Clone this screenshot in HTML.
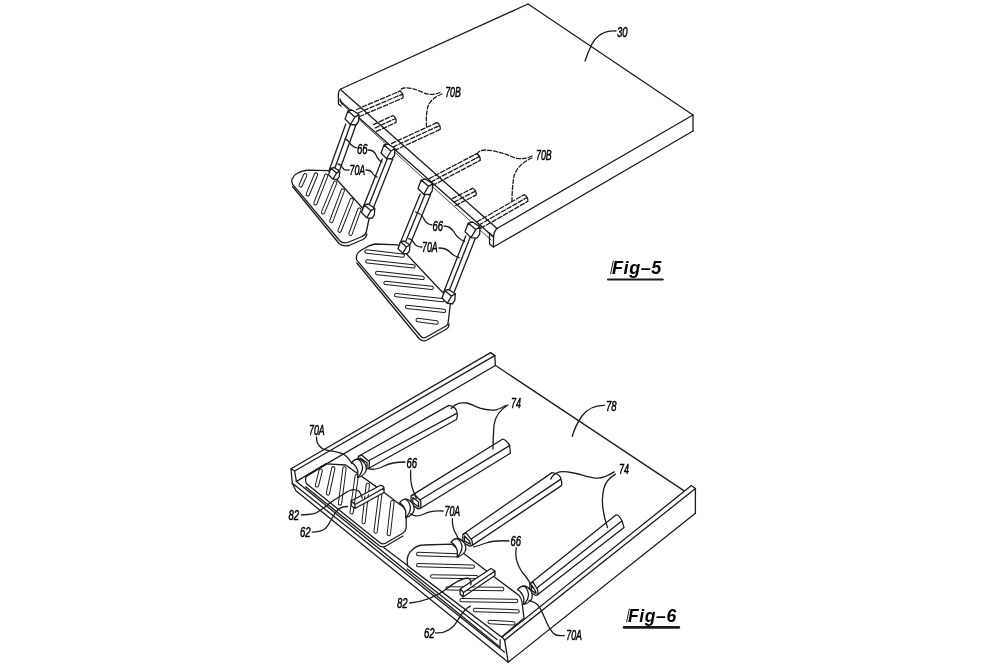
<!DOCTYPE html>
<html><head><meta charset="utf-8"><style>
html,body{margin:0;padding:0;background:#fff;}
svg{display:block;will-change:transform;}
text{font-family:"Liberation Sans",sans-serif;}
</style></head><body>
<svg width="1000" height="667" viewBox="0 0 1000 667">
<g fill="none" stroke="#1c1c1c" stroke-linejoin="round" stroke-linecap="round">
<line x1="340.8" y1="89" x2="528" y2="4" stroke-width="1.3"/>
<line x1="528" y1="4" x2="693" y2="115" stroke-width="1.3"/>
<line x1="693" y1="115" x2="693" y2="131" stroke-width="1.3"/>
<line x1="693" y1="115" x2="497" y2="228.5" stroke-width="1.3"/>
<line x1="693" y1="131" x2="493.5" y2="247" stroke-width="1.3"/>
<line x1="341" y1="90" x2="497" y2="228.5" stroke-width="1.3"/>
<line x1="340" y1="101" x2="493.5" y2="237" stroke-width="1.3"/>
<line x1="341" y1="103" x2="491" y2="240" stroke-width="0.8"/>
<path d="M497,228.5 Q494,231 493.5,237 L493.5,247 M493.5,237 L489.5,233 L489.5,244 L493.5,247" stroke-width="1.3" fill="none" />
<path d="M340.8,89 Q338,91 338.4,96 L338.4,104 L341,106 M340,99 L342,104" stroke-width="1.3" fill="none" />
<line x1="356.51" y1="109.50" x2="398.17" y2="91.78" stroke-width="1.3" stroke-dasharray="4.5,2"/>
<line x1="358.0" y1="113.0" x2="399.65" y2="95.28" stroke-width="1.3" stroke-dasharray="4.5,2"/>
<line x1="359.48" y1="116.49" x2="401.14" y2="98.77" stroke-width="1.3" stroke-dasharray="4.5,2"/>
<path d="M398.17,91.78 L400.01,91.00 Q403.80,93.52 402.98,97.99 L401.14,98.77 M399.65,95.28 L402.60,94.03" stroke-width="1.3" fill="none" />
<line x1="373.40" y1="124.54" x2="391.09" y2="116.38" stroke-width="1.3" stroke-dasharray="4.5,2"/>
<line x1="375.0" y1="128.0" x2="392.68" y2="119.83" stroke-width="1.3" stroke-dasharray="4.5,2"/>
<line x1="376.59" y1="131.45" x2="394.27" y2="123.28" stroke-width="1.3" stroke-dasharray="4.5,2"/>
<path d="M391.09,116.38 L392.90,115.54 Q396.76,117.95 396.09,122.45 L394.27,123.28 M392.68,119.83 L395.58,118.49" stroke-width="1.3" fill="none" />
<line x1="391.41" y1="143.54" x2="435.19" y2="123.38" stroke-width="1.3" stroke-dasharray="4.5,2"/>
<line x1="393.0" y1="147.0" x2="436.78" y2="126.83" stroke-width="1.3" stroke-dasharray="4.5,2"/>
<line x1="394.58" y1="150.45" x2="438.37" y2="130.28" stroke-width="1.3" stroke-dasharray="4.5,2"/>
<path d="M435.19,123.38 L437.01,122.54 Q440.87,124.95 440.18,129.45 L438.37,130.28 M436.78,126.83 L439.68,125.49" stroke-width="1.3" fill="none" />
<line x1="429.22" y1="178.63" x2="474.85" y2="154.57" stroke-width="1.3" stroke-dasharray="4.5,2"/>
<line x1="431.0" y1="182.0" x2="476.63" y2="157.93" stroke-width="1.3" stroke-dasharray="4.5,2"/>
<line x1="432.77" y1="185.36" x2="478.40" y2="161.29" stroke-width="1.3" stroke-dasharray="4.5,2"/>
<path d="M474.85,154.57 L476.62,153.63 Q480.61,155.83 480.17,160.36 L478.40,161.29 M476.63,157.93 L479.46,156.44" stroke-width="1.3" fill="none" />
<line x1="452.28" y1="198.61" x2="470.99" y2="189.11" stroke-width="1.3" stroke-dasharray="4.5,2"/>
<line x1="454.0" y1="202.0" x2="472.71" y2="192.50" stroke-width="1.3" stroke-dasharray="4.5,2"/>
<line x1="455.71" y1="205.38" x2="474.43" y2="195.89" stroke-width="1.3" stroke-dasharray="4.5,2"/>
<path d="M470.99,189.11 L472.78,188.21 Q476.72,190.46 476.21,194.98 L474.43,195.89 M472.71,192.50 L475.57,191.05" stroke-width="1.3" fill="none" />
<line x1="477.10" y1="221.70" x2="522.37" y2="195.70" stroke-width="1.3" stroke-dasharray="4.5,2"/>
<line x1="479.0" y1="225.0" x2="524.26" y2="198.99" stroke-width="1.3" stroke-dasharray="4.5,2"/>
<line x1="480.89" y1="228.29" x2="526.15" y2="202.29" stroke-width="1.3" stroke-dasharray="4.5,2"/>
<path d="M522.37,195.70 L524.10,194.70 Q528.16,196.75 527.89,201.29 L526.15,202.29 M524.26,198.99 L527.04,197.40" stroke-width="1.3" fill="none" />
<line x1="345.75" y1="124" x2="329.25" y2="170" stroke-width="1.3"/>
<line x1="350.68" y1="124" x2="334.18" y2="170" stroke-width="1.3"/>
<line x1="356.25" y1="124" x2="339.75" y2="170" stroke-width="1.3"/>
<line x1="382.25" y1="159" x2="363.25" y2="207" stroke-width="1.3"/>
<line x1="387.18" y1="159" x2="368.18" y2="207" stroke-width="1.3"/>
<line x1="392.75" y1="159" x2="373.75" y2="207" stroke-width="1.3"/>
<line x1="420.25" y1="194" x2="399.75" y2="244" stroke-width="1.3"/>
<line x1="425.18" y1="194" x2="404.68" y2="244" stroke-width="1.3"/>
<line x1="430.75" y1="194" x2="410.25" y2="244" stroke-width="1.3"/>
<line x1="465.75" y1="236" x2="443.75" y2="292" stroke-width="1.3"/>
<line x1="470.68" y1="236" x2="448.68" y2="292" stroke-width="1.3"/>
<line x1="476.25" y1="236" x2="454.25" y2="292" stroke-width="1.3"/>
<path d="M348.00,111.00 L352.00,110.00 L359.00,114.50 L355.00,117.00 Z M348.00,111.00 L345.00,119.00 L350.50,124.50 L355.00,117.00 M359.00,114.50 L358.50,121.50 L356.00,125.00 L350.50,124.50" stroke-width="1.3" fill="#fff" />
<path d="M384.00,145.00 L388.00,144.00 L395.00,148.50 L391.00,151.00 Z M384.00,145.00 L381.00,153.00 L386.50,158.50 L391.00,151.00 M395.00,148.50 L394.50,155.50 L392.00,159.00 L386.50,158.50" stroke-width="1.3" fill="#fff" />
<path d="M421.15,180.05 L425.35,179.00 L432.70,183.72 L428.50,186.35 Z M421.15,180.05 L418.00,188.45 L423.77,194.22 L428.50,186.35 M432.70,183.72 L432.18,191.07 L429.55,194.75 L423.77,194.22" stroke-width="1.3" fill="#fff" />
<path d="M468.24,223.08 L472.56,222.00 L480.12,226.86 L475.80,229.56 Z M468.24,223.08 L465.00,231.72 L470.94,237.66 L475.80,229.56 M480.12,226.86 L479.58,234.42 L476.88,238.20 L470.94,237.66" stroke-width="1.3" fill="#fff" />
<path d="M292.5,184.1 Q291,180 292.5,178.4 Q294,175 297,173.5 Q302,170.5 309,170.2 L328.8,170.7 L369.6,216 L366.4,231.5 Q365.5,235 362,236.5 L349,242 Q343,244.5 339.5,240.5 Z" stroke-width="1.3" fill="#fff" />
<path d="M292.5,186.5 L339,243.5 Q343.5,247 349,245.5 L363,239.5 Q366.5,237.5 366.8,234" stroke-width="1.3" fill="none" />
<line x1="305.2" y1="175.2" x2="300.7" y2="185.4" stroke-width="4.3" stroke-linecap="round"/>
<line x1="305.2" y1="175.2" x2="300.7" y2="185.4" stroke-width="2.3" stroke="#fff" stroke-linecap="round"/>
<line x1="316" y1="174.6" x2="307.8" y2="194.3" stroke-width="4.3" stroke-linecap="round"/>
<line x1="316" y1="174.6" x2="307.8" y2="194.3" stroke-width="2.3" stroke="#fff" stroke-linecap="round"/>
<line x1="326.2" y1="175.8" x2="315.4" y2="203.2" stroke-width="4.3" stroke-linecap="round"/>
<line x1="326.2" y1="175.8" x2="315.4" y2="203.2" stroke-width="2.3" stroke="#fff" stroke-linecap="round"/>
<line x1="335.2" y1="182.8" x2="323.1" y2="212.2" stroke-width="4.3" stroke-linecap="round"/>
<line x1="335.2" y1="182.8" x2="323.1" y2="212.2" stroke-width="2.3" stroke="#fff" stroke-linecap="round"/>
<line x1="342.8" y1="190.5" x2="331.3" y2="221.1" stroke-width="4.3" stroke-linecap="round"/>
<line x1="342.8" y1="190.5" x2="331.3" y2="221.1" stroke-width="2.3" stroke="#fff" stroke-linecap="round"/>
<line x1="351.7" y1="200" x2="339.6" y2="230.7" stroke-width="4.3" stroke-linecap="round"/>
<line x1="351.7" y1="200" x2="339.6" y2="230.7" stroke-width="2.3" stroke="#fff" stroke-linecap="round"/>
<line x1="359.4" y1="209.6" x2="350.5" y2="233.8" stroke-width="4.3" stroke-linecap="round"/>
<line x1="359.4" y1="209.6" x2="350.5" y2="233.8" stroke-width="2.3" stroke="#fff" stroke-linecap="round"/>
<path d="M330.90,168.30 L334.10,167.50 L339.70,171.10 L336.50,173.10 Z M330.90,168.30 L328.50,174.70 L332.90,179.10 L336.50,173.10 M339.70,171.10 L339.30,176.70 L337.30,179.50 L332.90,179.10" stroke-width="1.3" fill="#fff" />
<path d="M364.35,204.95 L368.15,204.00 L374.80,208.28 L371.00,210.65 Z M364.35,204.95 L361.50,212.55 L366.73,217.78 L371.00,210.65 M374.80,208.28 L374.32,214.93 L371.95,218.25 L366.73,217.78" stroke-width="1.3" fill="#fff" />
<path d="M356.6,259.8 Q355,253 363.2,249 Q368,245.5 374.8,244 L397.9,244.9 L450.7,301 L448.1,322.8 Q447.8,325 446,326 L426.5,337 Q423,339 420.5,336 Z" stroke-width="1.3" fill="#fff" />
<path d="M356.8,263 L419.5,339 Q423,342 427,340 L446.5,329 Q449,327.5 449,324" stroke-width="1.3" fill="none" />
<line x1="366.5" y1="251.5" x2="402.8" y2="255.6" stroke-width="4.3" stroke-linecap="round"/>
<line x1="366.5" y1="251.5" x2="402.8" y2="255.6" stroke-width="2.3" stroke="#fff" stroke-linecap="round"/>
<line x1="367.3" y1="261.4" x2="413.5" y2="266.4" stroke-width="4.3" stroke-linecap="round"/>
<line x1="367.3" y1="261.4" x2="413.5" y2="266.4" stroke-width="2.3" stroke="#fff" stroke-linecap="round"/>
<line x1="377.2" y1="273" x2="422.6" y2="277.9" stroke-width="4.3" stroke-linecap="round"/>
<line x1="377.2" y1="273" x2="422.6" y2="277.9" stroke-width="2.3" stroke="#fff" stroke-linecap="round"/>
<line x1="385.5" y1="282.9" x2="431.7" y2="287.8" stroke-width="4.3" stroke-linecap="round"/>
<line x1="385.5" y1="282.9" x2="431.7" y2="287.8" stroke-width="2.3" stroke="#fff" stroke-linecap="round"/>
<line x1="396.2" y1="295.2" x2="442.4" y2="300.2" stroke-width="4.3" stroke-linecap="round"/>
<line x1="396.2" y1="295.2" x2="442.4" y2="300.2" stroke-width="2.3" stroke="#fff" stroke-linecap="round"/>
<line x1="407" y1="306.8" x2="444" y2="310.9" stroke-width="4.3" stroke-linecap="round"/>
<line x1="407" y1="306.8" x2="444" y2="310.9" stroke-width="2.3" stroke="#fff" stroke-linecap="round"/>
<line x1="417.7" y1="320" x2="436.6" y2="322.5" stroke-width="4.3" stroke-linecap="round"/>
<line x1="417.7" y1="320" x2="436.6" y2="322.5" stroke-width="2.3" stroke="#fff" stroke-linecap="round"/>
<path d="M400.55,241.85 L403.95,241.00 L409.90,244.82 L406.50,246.95 Z M400.55,241.85 L398.00,248.65 L402.68,253.32 L406.50,246.95 M409.90,244.82 L409.48,250.78 L407.35,253.75 L402.68,253.32" stroke-width="1.3" fill="#fff" />
<path d="M444.85,290.45 L448.65,289.50 L455.30,293.77 L451.50,296.15 Z M444.85,290.45 L442.00,298.05 L447.23,303.27 L451.50,296.15 M455.30,293.77 L454.82,300.43 L452.45,303.75 L447.23,303.27" stroke-width="1.3" fill="#fff" />
<text transform="translate(617,37) scale(0.68,1)" font-size="14" font-style="italic" font-weight="normal" text-anchor="start" stroke="#000" stroke-width="0.5" fill="#000" letter-spacing="0">30</text>
<path d="M616,31 Q600,30 592,44 Q588,52 585,61" stroke-width="1.3" fill="none" />
<text transform="translate(445.2,96.8) scale(0.63,1)" font-size="14" font-style="italic" font-weight="normal" text-anchor="start" stroke="#000" stroke-width="0.5" fill="#000" letter-spacing="0">70B</text>
<path d="M440,92.5 Q432,96 424,93 Q412,87 404,88 Q400,89 400,91" stroke-width="1.3" fill="none" stroke-dasharray="4,2"/>
<path d="M442,94 Q432,98 428.5,105 Q425.5,113 426.6,126.4" stroke-width="1.3" fill="none" stroke-dasharray="4,2"/>
<text transform="translate(536,160) scale(0.63,1)" font-size="14" font-style="italic" font-weight="normal" text-anchor="start" stroke="#000" stroke-width="0.5" fill="#000" letter-spacing="0">70B</text>
<path d="M532,156 Q524,160 515,158 Q500,151 486,150 Q479,150 477,154" stroke-width="1.3" fill="none" stroke-dasharray="4,2"/>
<path d="M532,158 Q518,164 514,176 Q512,188 512,201" stroke-width="1.3" fill="none" stroke-dasharray="4,2"/>
<text transform="translate(357,153.5) scale(0.68,1)" font-size="14" font-style="italic" font-weight="normal" text-anchor="start" stroke="#000" stroke-width="0.5" fill="#000" letter-spacing="0">66</text>
<path d="M357,148 Q351,146 349,142 Q347,139 345,139" stroke-width="1.3" fill="none" />
<path d="M368,150 Q374,150 376,155 Q378,160 382,162" stroke-width="1.3" fill="none" />
<text transform="translate(349.5,175) scale(0.63,1)" font-size="14" font-style="italic" font-weight="normal" text-anchor="start" stroke="#000" stroke-width="0.5" fill="#000" letter-spacing="0">70A</text>
<path d="M349,170 Q344,171 342,167 Q340,164 338,164" stroke-width="1.3" fill="none" />
<path d="M366,170 Q371,170 373,174 Q375,177 377,177" stroke-width="1.3" fill="none" />
<text transform="translate(432.5,230.5) scale(0.68,1)" font-size="14" font-style="italic" font-weight="normal" text-anchor="start" stroke="#000" stroke-width="0.5" fill="#000" letter-spacing="0">66</text>
<path d="M432,225 Q426,224 424,219 Q422,214 415.5,212" stroke-width="1.3" fill="none" />
<path d="M444,226 Q450,226 454,232 Q458,239 464.6,241.4" stroke-width="1.3" fill="none" />
<text transform="translate(422,252) scale(0.63,1)" font-size="14" font-style="italic" font-weight="normal" text-anchor="start" stroke="#000" stroke-width="0.5" fill="#000" letter-spacing="0">70A</text>
<path d="M422,247 Q416,247 414,243 Q412,239 408.6,238.6" stroke-width="1.3" fill="none" />
<path d="M439,248 Q446,248 450,252 Q453,256 459,257.5" stroke-width="1.3" fill="none" />
<text transform="translate(612,274.2) scale(0.95,1)" font-size="19" font-style="italic" font-weight="bold" text-anchor="start" stroke="#000" stroke-width="0" fill="#000" letter-spacing="0.6">Fig&#8211;5</text>
<line x1="613.3" y1="261" x2="610.6" y2="274" stroke-width="1.0"/>
<line x1="608" y1="279.6" x2="662.8" y2="279.6" stroke-width="2"/>
<line x1="291" y1="468.8" x2="490.6" y2="352.6" stroke-width="1.3"/>
<line x1="490.6" y1="352.6" x2="494.8" y2="355.6" stroke-width="1.3"/>
<line x1="294.6" y1="471" x2="494.8" y2="355.6" stroke-width="1.3"/>
<line x1="494.8" y1="355.6" x2="495.4" y2="365.5" stroke-width="1.3"/>
<line x1="296.4" y1="481.4" x2="495.4" y2="365.5" stroke-width="1.3"/>
<path d="M291,468.8 L294.6,471 M291,468.8 L292.3,483.2 L295.9,490.8 L508.2,662.2 M294.6,471 L296.4,481.4" stroke-width="1.3" fill="none" />
<line x1="292.3" y1="483.2" x2="504.6" y2="652.2" stroke-width="1.3"/>
<line x1="384" y1="547.7" x2="502.1" y2="637.1" stroke-width="1.3"/>
<line x1="296.4" y1="481.4" x2="500.1" y2="647.2" stroke-width="1.3"/>
<line x1="500.1" y1="647.2" x2="500.1" y2="639.7" stroke-width="1.3"/>
<line x1="496" y1="365.8" x2="683.8" y2="490.6" stroke-width="1.3"/>
<line x1="691.4" y1="485.6" x2="502.1" y2="637.1" stroke-width="1.3"/>
<line x1="695.4" y1="488.6" x2="504.6" y2="640.2" stroke-width="1.3"/>
<line x1="691.4" y1="485.6" x2="695.4" y2="488.6" stroke-width="1.3"/>
<line x1="695.4" y1="488.6" x2="695.4" y2="513.2" stroke-width="1.3"/>
<line x1="695.4" y1="513.2" x2="508.2" y2="662.2" stroke-width="1.3"/>
<line x1="502.1" y1="637.1" x2="504.6" y2="640.2" stroke-width="1.3"/>
<line x1="504.6" y1="640.2" x2="508.2" y2="662.2" stroke-width="1.3"/>
<path d="M358.6,456.2 L448.8,405.4 Q456.7,406.4 457.2,413.7 Q457.5,418.3 456,419.8 L368.8,468.2 L367.6,461.3 Z" stroke-width="1.3" fill="#fff" />
<line x1="367.6" y1="461.3" x2="456.7" y2="413.4" stroke-width="1.3"/>
<path d="M358.3,456.59 L361.6,454.9 L369.40,461.8 L369.1,467.2 Q368.8,469.0 366.3,468.9 L358.40,464.59 Z" stroke-width="1.3" fill="#fff" />
<path d="M360.1,458.0 L367.1,462.8 L367.0,467.0 L360.0,463.2 Z" stroke-width="1.3" fill="none" />
<path d="M411.4,495.6 L502.4,439.2 Q505.4,439.2 509.6,445.0 L510.4,453.2 L420.5,508.2 L419,500.5 Z" stroke-width="1.3" fill="#fff" />
<line x1="419" y1="500.5" x2="509.6" y2="445.6" stroke-width="1.3"/>
<path d="M411.09,496.0 L414.4,494.3 L420.8,501.0 L420.8,507.2 Q420.5,509.0 418.0,508.9 L411.2,504.0 Z" stroke-width="1.3" fill="#fff" />
<path d="M412.9,497.40 L418.5,502.0 L418.7,507.0 L412.79,502.6 Z" stroke-width="1.3" fill="none" />
<path d="M463.1,534.2 L552,472.6 Q560.5,473.6 561,479.7 Q562.6,484.4 561.1,485.9 L472.2,545.4 L470.1,539.8 Z" stroke-width="1.3" fill="#fff" />
<line x1="470.1" y1="539.8" x2="560.5" y2="479.4" stroke-width="1.3"/>
<path d="M462.8,534.6 L466.1,532.90 L471.90,540.3 L472.5,544.4 Q472.2,546.19 469.7,546.1 L462.90,542.6 Z" stroke-width="1.3" fill="#fff" />
<path d="M464.6,536.0 L469.6,541.3 L470.4,544.19 L464.5,541.2 Z" stroke-width="1.3" fill="none" />
<path d="M530.1,583.4 L616.2,514.8 Q619.2,514.8 621.8,520.5 L624,527.4 L537.8,594.6 L535.7,589 Z" stroke-width="1.3" fill="#fff" />
<line x1="535.7" y1="589" x2="621.8" y2="521.1" stroke-width="1.3"/>
<path d="M529.80,583.8 L533.1,582.1 L537.5,589.5 L538.09,593.6 Q537.8,595.4 535.3,595.30 L529.9,591.8 Z" stroke-width="1.3" fill="#fff" />
<path d="M531.6,585.19 L535.2,590.5 L536.0,593.4 L531.5,590.4 Z" stroke-width="1.3" fill="none" />
<path d="M306.3,483.6 Q304.5,478 307.2,475.5 L326.5,463.8 L345.7,465 L382.8,491.4 L403.2,507 Q406.2,510 406.2,514 L406.2,528 Q406,531 403,533 L386,543 Q382,545 379,542 Z" stroke-width="1.3" fill="#fff" />
<path d="M305.8,487 L379,545.5 Q382.5,548 386,546 L403,536" stroke-width="1.3" fill="none" />
<path d="M307.2,475.5 L326.5,463.8" stroke-width="2" fill="none" />
<line x1="320.7" y1="470.6" x2="317" y2="485.4" stroke-width="4.3" stroke-linecap="round"/>
<line x1="320.7" y1="470.6" x2="317" y2="485.4" stroke-width="2.3" stroke="#fff" stroke-linecap="round"/>
<line x1="333.3" y1="468.3" x2="327.9" y2="493.5" stroke-width="4.3" stroke-linecap="round"/>
<line x1="333.3" y1="468.3" x2="327.9" y2="493.5" stroke-width="2.3" stroke="#fff" stroke-linecap="round"/>
<line x1="344.5" y1="468.3" x2="340" y2="503.4" stroke-width="4.3" stroke-linecap="round"/>
<line x1="344.5" y1="468.3" x2="340" y2="503.4" stroke-width="2.3" stroke="#fff" stroke-linecap="round"/>
<line x1="356.7" y1="476.2" x2="351.6" y2="512.4" stroke-width="4.3" stroke-linecap="round"/>
<line x1="356.7" y1="476.2" x2="351.6" y2="512.4" stroke-width="2.3" stroke="#fff" stroke-linecap="round"/>
<line x1="367.8" y1="484.8" x2="363.6" y2="522" stroke-width="4.3" stroke-linecap="round"/>
<line x1="367.8" y1="484.8" x2="363.6" y2="522" stroke-width="2.3" stroke="#fff" stroke-linecap="round"/>
<line x1="380.4" y1="493.2" x2="375.6" y2="531.6" stroke-width="4.3" stroke-linecap="round"/>
<line x1="380.4" y1="493.2" x2="375.6" y2="531.6" stroke-width="2.3" stroke="#fff" stroke-linecap="round"/>
<line x1="392.4" y1="502.2" x2="388.8" y2="534" stroke-width="4.3" stroke-linecap="round"/>
<line x1="392.4" y1="502.2" x2="388.8" y2="534" stroke-width="2.3" stroke="#fff" stroke-linecap="round"/>
<path d="M351,501 L380,485.5 Q383,485 384,488 L355,504.5 Z M351,501 L351.6,506 L355,508.5 L384,492.5 L384,488 M355,504.5 L355,508.5" stroke-width="1.3" fill="#fff" />
<path d="M351.50,462.60 Q354.50,459.00 357.80,459.00 Q361.50,459.20 364.50,463.00 Q367.50,468.00 365.50,472.00 Q362.50,476.50 357.80,477.30 L357.80,471.00 Q356.00,465.00 351.50,462.60 Z" stroke-width="1.3" fill="#fff" />
<path d="M357.80,459.00 Q361.50,461.00 362.50,467.00 Q362.50,473.00 357.80,477.30" stroke-width="1.3" fill="none" />
<path d="M399.40,502.80 Q402.40,499.20 405.70,499.20 Q409.40,499.40 412.40,503.20 Q415.40,508.20 413.40,512.20 Q410.40,516.70 405.70,517.50 L405.70,511.20 Q403.90,505.20 399.40,502.80 Z" stroke-width="1.3" fill="#fff" />
<path d="M405.70,499.20 Q409.40,501.20 410.40,507.20 Q410.40,513.20 405.70,517.50" stroke-width="1.3" fill="none" />
<path d="M407.7,565.7 Q405.5,556 412,550 Q417,545 423.8,545 L451.8,544.2 L494.7,577.3 L518.8,595.2 Q521.5,598.5 522,602 L524,618.3 L501.5,637 Z" stroke-width="1.3" fill="#fff" />
<line x1="407.2" y1="569" x2="497" y2="639.5" stroke-width="1.3"/>
<line x1="418.2" y1="554" x2="458.1" y2="555.4" stroke-width="4.3" stroke-linecap="round"/>
<line x1="418.2" y1="554" x2="458.1" y2="555.4" stroke-width="2.3" stroke="#fff" stroke-linecap="round"/>
<line x1="418.2" y1="565.2" x2="472.8" y2="566.6" stroke-width="4.3" stroke-linecap="round"/>
<line x1="418.2" y1="565.2" x2="472.8" y2="566.6" stroke-width="2.3" stroke="#fff" stroke-linecap="round"/>
<line x1="432.2" y1="576.4" x2="476.3" y2="577.1" stroke-width="4.3" stroke-linecap="round"/>
<line x1="432.2" y1="576.4" x2="476.3" y2="577.1" stroke-width="2.3" stroke="#fff" stroke-linecap="round"/>
<line x1="447.6" y1="588.3" x2="502.2" y2="589" stroke-width="4.3" stroke-linecap="round"/>
<line x1="447.6" y1="588.3" x2="502.2" y2="589" stroke-width="2.3" stroke="#fff" stroke-linecap="round"/>
<line x1="461.6" y1="600.2" x2="516.2" y2="601" stroke-width="4.3" stroke-linecap="round"/>
<line x1="461.6" y1="600.2" x2="516.2" y2="601" stroke-width="2.3" stroke="#fff" stroke-linecap="round"/>
<line x1="475" y1="610" x2="517.6" y2="611.4" stroke-width="4.3" stroke-linecap="round"/>
<line x1="475" y1="610" x2="517.6" y2="611.4" stroke-width="2.3" stroke="#fff" stroke-linecap="round"/>
<line x1="489.6" y1="622" x2="513.4" y2="623.3" stroke-width="4.3" stroke-linecap="round"/>
<line x1="489.6" y1="622" x2="513.4" y2="623.3" stroke-width="2.3" stroke="#fff" stroke-linecap="round"/>
<path d="M460.2,589 L491,568.5 L495,571 L463.5,592.5 Z M460.2,589 L460,594 L463,597 L463.5,592.5 M495,571 L495,575.5 L463,597" stroke-width="1.3" fill="#fff" />
<path d="M451.00,542.10 Q454.00,538.50 457.30,538.50 Q461.00,538.70 464.00,542.50 Q467.00,547.50 465.00,551.50 Q462.00,556.00 457.30,556.80 L457.30,550.50 Q455.50,544.50 451.00,542.10 Z" stroke-width="1.3" fill="#fff" />
<path d="M457.30,538.50 Q461.00,540.50 462.00,546.50 Q462.00,552.50 457.30,556.80" stroke-width="1.3" fill="none" />
<path d="M517.50,589.60 Q520.50,586.00 523.80,586.00 Q527.50,586.20 530.50,590.00 Q533.50,595.00 531.50,599.00 Q528.50,603.50 523.80,604.30 L523.80,598.00 Q522.00,592.00 517.50,589.60 Z" stroke-width="1.3" fill="#fff" />
<path d="M523.80,586.00 Q527.50,588.00 528.50,594.00 Q528.50,600.00 523.80,604.30" stroke-width="1.3" fill="none" />
<text transform="translate(309,434.8) scale(0.63,1)" font-size="14" font-style="italic" font-weight="normal" text-anchor="start" stroke="#000" stroke-width="0.5" fill="#000" letter-spacing="0">70A</text>
<path d="M316.5,436.8 C316.5,441 317,443.5 319,445.5 C321,448 322.5,449 324.7,449.6 C329,450.8 333,451.2 337.1,452.1 C341,453 344,454 346.2,456.2 C349,458.5 350.5,461 351.9,463.6" stroke-width="1.3" fill="none" />
<text transform="translate(406.5,467.6) scale(0.68,1)" font-size="14" font-style="italic" font-weight="normal" text-anchor="start" stroke="#000" stroke-width="0.5" fill="#000" letter-spacing="0">66</text>
<path d="M405,462 Q392,462 384,466 Q374,471 368,468.3" stroke-width="1.3" fill="none" />
<path d="M410.7,470.4 Q410,482 413,490 Q415,495 416.3,498.4" stroke-width="1.3" fill="none" />
<text transform="translate(444.5,516) scale(0.63,1)" font-size="14" font-style="italic" font-weight="normal" text-anchor="start" stroke="#000" stroke-width="0.5" fill="#000" letter-spacing="0">70A</text>
<path d="M443,511 Q432,510 424,514 Q416,518 410.4,513.8" stroke-width="1.3" fill="none" />
<path d="M452.4,518.7 Q452,528 456,534 Q458,538 459.4,540.4" stroke-width="1.3" fill="none" />
<text transform="translate(510.5,546.3) scale(0.68,1)" font-size="14" font-style="italic" font-weight="normal" text-anchor="start" stroke="#000" stroke-width="0.5" fill="#000" letter-spacing="0">66</text>
<path d="M516.2,548 Q514,560 522,572 Q529,580 531.7,586.2" stroke-width="1.3" fill="none" />
<path d="M509,541 Q495,540 486,543 Q478,546 473.6,546.8" stroke-width="1.3" fill="none" />
<text transform="translate(511,407.5) scale(0.64,1)" font-size="14" font-style="italic" font-weight="normal" text-anchor="start" stroke="#000" stroke-width="0.5" fill="#000" letter-spacing="0">74</text>
<path d="M505.7,405.5 C500,409 496,410.5 492.6,410.2 C487,410 484,409.5 480,408.2 C474,406 470,403.5 466.4,403 C462,402.5 459,403 457.6,403.8 C454,405.5 452,407 451.2,408.6" stroke-width="1.3" fill="none" />
<path d="M508,405 Q496,412 494,425 Q493,438 493,449" stroke-width="1.3" fill="none" />
<text transform="translate(619,474) scale(0.64,1)" font-size="14" font-style="italic" font-weight="normal" text-anchor="start" stroke="#000" stroke-width="0.5" fill="#000" letter-spacing="0">74</text>
<path d="M614.2,471.9 C606,477 600,478.5 596.2,478.1 C588,477.5 580,474 573.7,473 C566,471.5 561,471 558,472.4 C554,474 551.5,477 550.7,479.2" stroke-width="1.3" fill="none" />
<path d="M615.4,474.1 C609,478 605.5,482 604,488 C601.5,497 601.5,510 607.5,527.6" stroke-width="1.3" fill="none" />
<text transform="translate(606,411) scale(0.68,1)" font-size="14" font-style="italic" font-weight="normal" text-anchor="start" stroke="#000" stroke-width="0.5" fill="#000" letter-spacing="0">78</text>
<path d="M604.5,405.3 Q590,405 582,416 Q575,426 572.3,436.4" stroke-width="1.3" fill="none" />
<text transform="translate(288.5,519.6) scale(0.68,1)" font-size="14" font-style="italic" font-weight="normal" text-anchor="start" stroke="#000" stroke-width="0.5" fill="#000" letter-spacing="0">82</text>
<path d="M301.3,514.9 C308,514.5 312,514.5 316,512.8 C321,510.5 325,507 329.6,503.3 C334,500 338,497.5 342.2,495 C346,492.5 350,489.5 353.8,489.7 C357.5,490 359.5,491.5 360.1,492.8 C361.5,495 362,496.5 362.2,498.1" stroke-width="1.3" fill="none" />
<text transform="translate(300,537) scale(0.68,1)" font-size="14" font-style="italic" font-weight="normal" text-anchor="start" stroke="#000" stroke-width="0.5" fill="#000" letter-spacing="0">62</text>
<path d="M312.3,532.2 C318,532 322,531 325.4,528.5 C329,525 330.5,520.5 332.8,517 C335,513 337,510.5 339.1,508.6 C341.5,507 344,506.5 347.5,506.5" stroke-width="1.3" fill="none" />
<text transform="translate(397,607.7) scale(0.68,1)" font-size="14" font-style="italic" font-weight="normal" text-anchor="start" stroke="#000" stroke-width="0.5" fill="#000" letter-spacing="0">82</text>
<path d="M409.8,603 Q430,601 445,590 Q460,578 468,578 Q472,580 470.7,584.8" stroke-width="1.3" fill="none" />
<text transform="translate(424,637.8) scale(0.68,1)" font-size="14" font-style="italic" font-weight="normal" text-anchor="start" stroke="#000" stroke-width="0.5" fill="#000" letter-spacing="0">62</text>
<path d="M435.4,632.8 Q450,634 458,620 Q464,609 470.4,606.2" stroke-width="1.3" fill="none" />
<text transform="translate(566.3,640) scale(0.63,1)" font-size="14" font-style="italic" font-weight="normal" text-anchor="start" stroke="#000" stroke-width="0.5" fill="#000" letter-spacing="0">70A</text>
<path d="M529,600.4 C533,601.5 536,603 538,605.3 C541,609 542.5,613 544.3,617 C546.5,622 548,626.5 550.6,629.6 C552.5,632.5 554,634.5 556,635 C559,635.8 561.5,635.6 564.1,635.5" stroke-width="1.3" fill="none" />
<text transform="translate(628,622) scale(0.95,1)" font-size="18.5" font-style="italic" font-weight="bold" text-anchor="start" stroke="#000" stroke-width="0" fill="#000" letter-spacing="0.6">Fig&#8211;6</text>
<line x1="629.3" y1="609" x2="626.6" y2="622" stroke-width="1.0"/>
<line x1="624" y1="627.4" x2="678.9" y2="627.4" stroke-width="2.6"/>
</g>
</svg>
</body></html>
